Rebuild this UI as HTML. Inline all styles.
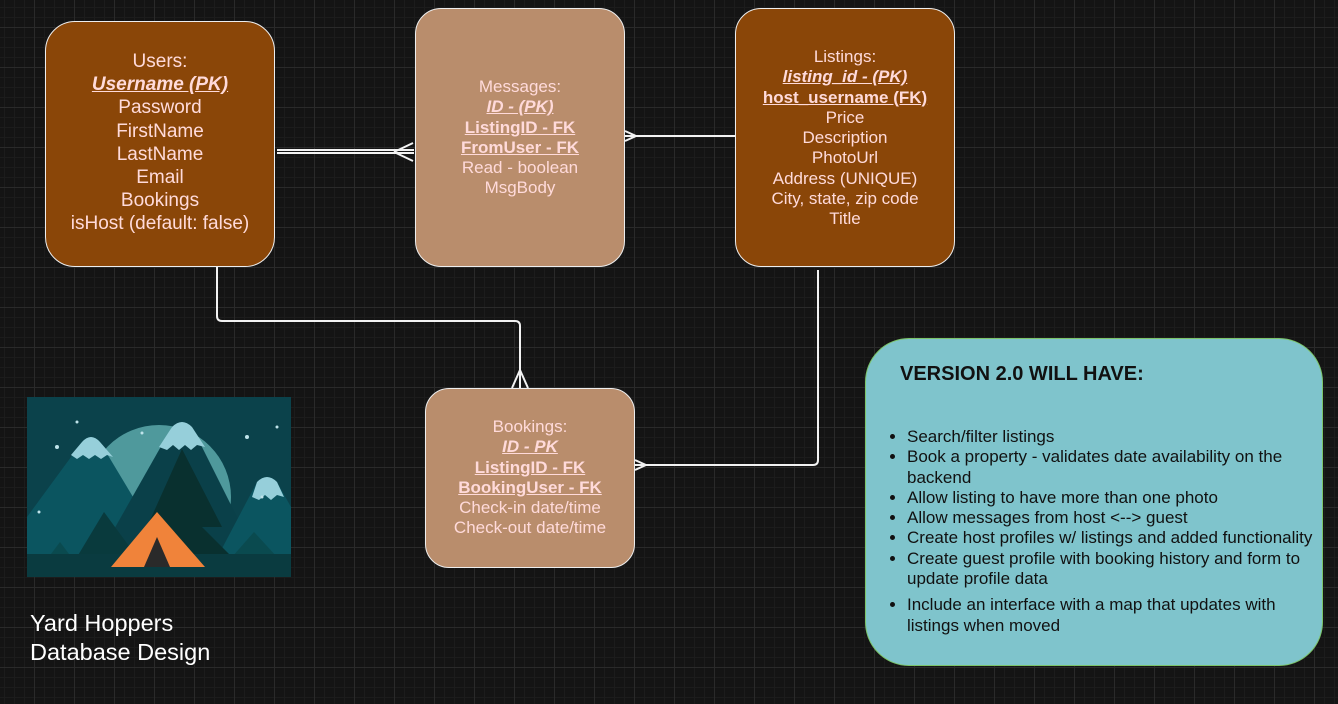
<!DOCTYPE html>
<html><head><style>
body{margin:0;width:1338px;height:704px;overflow:hidden;background-color:#141414;
background-image:linear-gradient(#2a2a2a 1px,transparent 1px),linear-gradient(90deg,#2a2a2a 1px,transparent 1px),linear-gradient(#1c1c1c 1px,transparent 1px),linear-gradient(90deg,#1c1c1c 1px,transparent 1px);
background-size:40px 40px,40px 40px,10px 10px,10px 10px;background-position:34px 27px,34px 27px,4px 7px,4px 7px;
font-family:"Liberation Sans",Arial,sans-serif;position:relative}
.box{position:absolute;box-sizing:border-box;border:1px solid #eee;text-align:center;color:#ffdada}
.box div{white-space:nowrap}
.u{text-decoration:underline;font-weight:bold}
.i{font-style:italic}
svg{position:absolute;left:0;top:0}
</style></head><body>
<svg width="1338" height="704">
<g stroke="#f2f2f2" stroke-width="2" fill="none">
<line x1="277" y1="150" x2="414" y2="150"/><line x1="277" y1="153" x2="414" y2="153"/>
<path d="M394 152 L413 143 M394 152 L413 161"/>
<line x1="624" y1="136" x2="735" y2="136"/>
<path d="M636 136 L625 131 M636 136 L625 141"/>
<path d="M217 266 V316 Q217 321 222 321 H515 Q520 321 520 326 V388"/>
<path d="M520 370 L512 388 M520 370 L528 388"/>
<path d="M818 270 V460 Q818 465 813 465 H634"/>
<path d="M646 465 L635 460 M646 465 L635 470"/>
</g>
</svg>

<div class="box" style="left:45px;top:21px;width:230px;height:246px;border-radius:30px;background:#8a4608;font-size:19px;line-height:23.2px;padding-top:28px">
<div>Users:</div><div class="u i">Username (PK)</div><div>Password</div><div>FirstName</div><div>LastName</div><div>Email</div><div>Bookings</div><div>isHost (default: false)</div></div>

<div class="box" style="left:415px;top:8px;width:210px;height:259px;border-radius:26px;background:#b98d6c;font-size:17px;line-height:20.3px;padding-top:68px">
<div>Messages:</div><div class="u i">ID - (PK)</div><div class="u">ListingID - FK</div><div class="u">FromUser - FK</div><div>Read - boolean</div><div>MsgBody</div></div>

<div class="box" style="left:735px;top:8px;width:220px;height:259px;border-radius:26px;background:#8a4608;font-size:17px;line-height:20.3px;padding-top:38px">
<div>Listings:</div><div class="u i">listing_id - (PK)</div><div class="u">host_username (FK)</div><div>Price</div><div>Description</div><div>PhotoUrl</div><div>Address (UNIQUE)</div><div>City, state, zip code</div><div>Title</div></div>

<div class="box" style="left:425px;top:388px;width:210px;height:180px;border-radius:24px;background:#b98d6c;font-size:17px;line-height:20.3px;padding-top:28px">
<div>Bookings:</div><div class="u i">ID - PK</div><div class="u">ListingID - FK</div><div class="u">BookingUser - FK</div><div>Check-in date/time</div><div>Check-out date/time</div></div>

<div style="position:absolute;left:865px;top:338px;width:458px;height:328px;box-sizing:border-box;border:1px solid #7bc46a;border-radius:44px;background:#7fc4cc;color:#111">
<div style="position:absolute;left:34px;top:24px;font-weight:bold;font-size:20px">VERSION 2.0 WILL HAVE:</div>
<ul style="position:absolute;left:0;top:88px;margin:0;padding-left:41px;font-size:17px;line-height:20.3px;width:405px">
<li>Search/filter listings</li>
<li>Book a property - validates date availability on the backend</li>
<li>Allow listing to have more than one photo</li>
<li>Allow messages from host &lt;--&gt; guest</li>
<li style="white-space:nowrap">Create host profiles w/ listings and added functionality</li>
<li>Create guest profile with booking history and form to update profile data</li>
<li style="margin-top:6px">Include an interface with a map that updates with listings when moved</li>
</ul></div>

<svg style="left:27px;top:397px" width="264" height="180" viewBox="0 0 264 180">
<rect width="264" height="180" fill="#0b424b"/>
<circle cx="132" cy="100" r="72" fill="#4f999c"/>
<path d="M0 120 L55 45 Q64 35 73 45 L130 140 V180 H0Z" fill="#0b5560"/>
<path d="M55 45 Q64 35 73 45 L86 60 L80 58 L74 62 L68 58 L62 62 L56 58 L50 62 L44 58Z" fill="#96cfda"/>
<path d="M60 180 L145 30 Q155 20 165 30 L240 180Z" fill="#0a4049"/>
<path d="M145 30 Q155 20 165 30 L178 50 L170 48 L164 53 L158 48 L152 53 L146 48 L140 53 L132 50Z" fill="#96cfda"/>
<path d="M180 180 L230 85 Q240 75 250 85 L264 110 V180Z" fill="#0b5560"/>
<path d="M230 85 Q240 75 250 85 L257 100 L250 98 L244 103 L238 98 L232 103 L225 100Z" fill="#96cfda"/>
<path d="M155 52 L195 130 L175 130 L205 160 L110 160 L140 130 L120 130Z" fill="#09302f"/>
<path d="M77 115 L110 160 L50 160Z" fill="#093a3d"/>
<path d="M227 135 L250 160 L205 160Z" fill="#0a4a4f"/>
<path d="M33 145 L48 165 L18 165Z" fill="#0a4a4f"/>
<rect y="157" width="264" height="23" fill="#0a3b40"/>
<path d="M130 115 L178 170 H84Z" fill="#f0833a"/>
<path d="M130 140 L143 170 H117Z" fill="#2a2a2a"/>
<g fill="#bfe3ea"><circle cx="30" cy="50" r="2"/><circle cx="220" cy="40" r="2"/><circle cx="250" cy="30" r="1.5"/><circle cx="115" cy="36" r="1.5"/><circle cx="50" cy="25" r="1.5"/><circle cx="235" cy="100" r="1.5"/><circle cx="12" cy="115" r="1.5"/></g>
</svg>

<div style="position:absolute;left:30px;top:609px;color:#fff;font-size:23.5px;line-height:29px">Yard Hoppers<br>Database Design</div>
</body></html>
